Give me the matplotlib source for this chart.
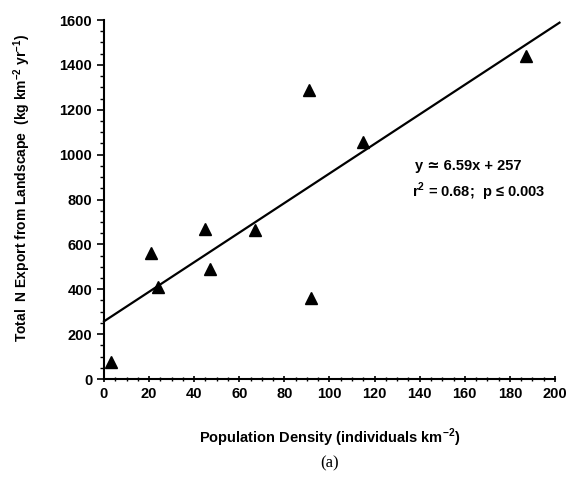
import matplotlib
matplotlib.use("Agg")
import matplotlib.pyplot as plt
import numpy as np
from matplotlib.ticker import MultipleLocator

pop_density = [3, 21, 24, 45, 47, 67, 91, 92, 115, 187]
n_export = [76, 561, 410, 668, 492, 664, 1288, 361, 1056, 1439]
slope = 6.59
intercept = 257
line_x = [0, 202]

plt.rcParams['font.family'] = ['Liberation Sans', 'DejaVu Sans']
plt.rcParams['mathtext.fontset'] = 'custom'
plt.rcParams['mathtext.bf'] = 'Liberation Sans:bold'
plt.rcParams['mathtext.rm'] = 'Liberation Sans:bold'

fig = plt.figure(figsize=(5.67, 4.8), dpi=100)
ax = fig.add_axes([0.1834, 0.2104, 0.7954, 0.7479])

ax.plot(pop_density, n_export, linestyle='none', marker='^', color='black', markersize=9)
lx = np.array(line_x, dtype=float)
ax.plot(lx, slope * lx + intercept, color='black', linewidth=1.6, clip_on=False)

ax.set_xlim(0, 200)
ax.set_ylim(0, 1600)
ax.xaxis.set_major_locator(MultipleLocator(20))
ax.xaxis.set_minor_locator(MultipleLocator(5))
ax.yaxis.set_major_locator(MultipleLocator(200))
ax.yaxis.set_minor_locator(MultipleLocator(50))
for s in ['top', 'right']:
    ax.spines[s].set_visible(False)
for s in ['left', 'bottom']:
    ax.spines[s].set_linewidth(1.5)
ax.tick_params(axis='both', which='major', length=5, width=1.2, labelsize=10.5)
ax.tick_params(axis='both', which='minor', length=3, width=1.0)
ax.tick_params(axis='x', which='both', direction='inout')
for lab in ax.get_xticklabels() + ax.get_yticklabels():
    lab.set_fontweight('bold')

ax.set_xlabel('Population Density (individuals km$^{\\mathbf{-2}}$)', fontsize=10.5,
              fontweight='bold')
ax.xaxis.set_label_coords(0.501, -0.164)
ax.xaxis.label.set_va('center')
ax.set_ylabel('Total  N Export from Landscape  (kg km$^{\\mathbf{-2}}$ yr$^{\\mathbf{-1}}$)',
              fontsize=10, fontweight='bold')
ax.yaxis.set_label_coords(-0.182, 0.532)
ax.yaxis.label.set_va('center')

fig.text(415/567, 1 - 170/480, 'y ≃ 6.59x + 257', fontsize=10.5, fontweight='bold', va='baseline')
fig.text(412/567, 1 - 197/480, 'r$^{\\mathbf{2}}$ = 0.68;  p ≤ 0.003', fontsize=10.5,
         fontweight='bold', va='baseline')

fig.text(330/567, 1 - 463/480, '(a)', fontsize=12, family='Liberation Serif', ha='center', va='center')

fig.savefig('out.png', dpi=100)
